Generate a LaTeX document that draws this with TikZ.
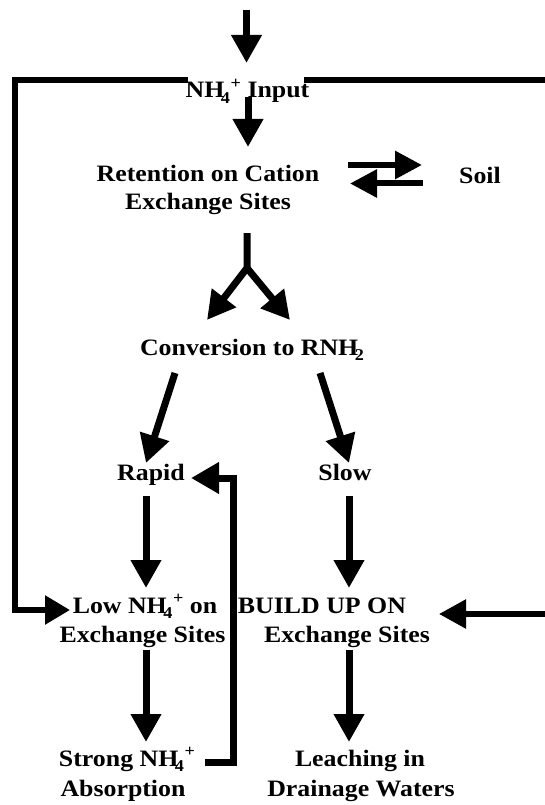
\documentclass[tikz,border=0pt]{standalone}
\usepackage{fontspec}
\setmainfont{Liberation Serif}[FakeStretch=1.1]
\usetikzlibrary{arrows.meta,calc}
% ammonium and amine formulas with tucked-in subscripts
\newcommand{\smallfig}{\fontsize{16.5}{16.5}\selectfont}
\newcommand{\nhfour}{NH\kern-0.15em\raisebox{-0.22em}{\smallfig 4}\kern0.03em\raisebox{0.42em}{\smallfig +}}
\newcommand{\rnhtwo}{RNH\kern-0.15em\raisebox{-0.22em}{\smallfig 2}}
\begin{document}
\begin{tikzpicture}[x=1pt,y=-1pt,
  lbl/.style={font=\bfseries\fontsize{23.5}{28}\selectfont, inner sep=0pt, anchor=base},
  arr/.style={line width=7pt, -{Triangle[length=28pt,width=29pt]}},
  eqarr/.style={line width=6pt, -{Triangle[length=27pt,width=27pt]}},
  loop/.style={line width=5.5pt, line join=miter}]
\useasboundingbox[fill=white] (0,0) rectangle (545,805);

% labels
\node[lbl] (input)  at (247.5,98) {\nhfour\ Input};
\node[lbl] (ret1)   at (208,182)  {Retention on Cation};
\node[lbl] (ret2)   at (208,209)  {Exchange Sites};
\node[lbl] (soil)   at (480,183)  {Soil};
\node[lbl] (conv)   at (252,355)  {Conversion to \rnhtwo};
\node[lbl] (rapid)  at (151,480)  {Rapid};
\node[lbl] (slow)   at (345,480)  {Slow};
\node[lbl] (low1)   at (145,613)  {Low \nhfour\ on};
\node[lbl] (low2)   at (142.5,642){Exchange Sites};
\node[lbl] (build1) at (322,613)  {BUILD UP ON};
\node[lbl] (build2) at (347,642)  {Exchange Sites};
\node[lbl] (strong) at (127,766)  {Strong \nhfour};
\node[lbl] (absorb) at (123,796)  {Absorption};
\node[lbl] (leach1) at (360,766)  {Leaching in};
\node[lbl] (leach2) at (361,796)  {Drainage Waters};

% incoming supply
\coordinate (src) at (246.5,10);
\draw[arr] (src) -- ($(input.base)+(-1,-35)$);
\draw[arr] ($(input.base)+(0.5,-1)$) -- ($(ret1.base)+(40,-35)$);

% exchange equilibrium with soil
\draw[eqarr] ($(ret1.base)+(140,-17)$) -- ($(soil.base)+(-58,-18)$);
\draw[eqarr] ($(soil.base)+(-57,0.5)$) -- ($(ret1.base)+(142,1.5)$);

% fork into conversion
\coordinate (fork) at ($(ret2.base)+(39,59)$);
\draw[arr] ($(ret2.base)+(39,24)$) -- (fork) -- ($(conv.base)+(-45,-35)$);
\draw[arr] (fork) -- ($(conv.base)+(38,-35)$);

% rapid and slow branches
\draw[arr] ($(conv.base)+(-77,18)$) -- ($(rapid.base)+(-5,-17)$);
\draw[arr] ($(conv.base)+(68,18)$) -- ($(slow.base)+(4,-17)$);
\draw[arr] ($(rapid.base)+(-5,16)$) -- ($(low1.base)+(1,-25)$);
\draw[arr] ($(slow.base)+(4,16)$) -- ($(build1.base)+(27,-25)$);
\draw[arr] ($(low2.base)+(3.5,8)$) -- ($(strong.base)+(19,-24)$);
\draw[arr] ($(build2.base)+(2,8)$) -- ($(leach1.base)+(-11,-24)$);

% side loops
\draw[loop, -{Triangle[length=25pt,width=28pt]}]
  ($(input.base)+(-59.5,-18)$) -| ($(low1.base)+(-130,-3)$) -- ($(low1.base)+(-75,-3)$);
\coordinate (rim) at (552,80);
\draw[loop, -{Triangle[length=27pt,width=28pt]}]
  ($(input.base)+(56.5,-18)$) -- (rim) |- ($(build1.base)+(117,1)$);
\draw[line width=7pt, line join=miter, -{Triangle[length=28pt,width=30pt]}]
  ($(strong.base)+(78,-4)$) -| ($(rapid.base)+(82,-2)$) -- ($(rapid.base)+(40,-2)$);
\end{tikzpicture}
\end{document}
